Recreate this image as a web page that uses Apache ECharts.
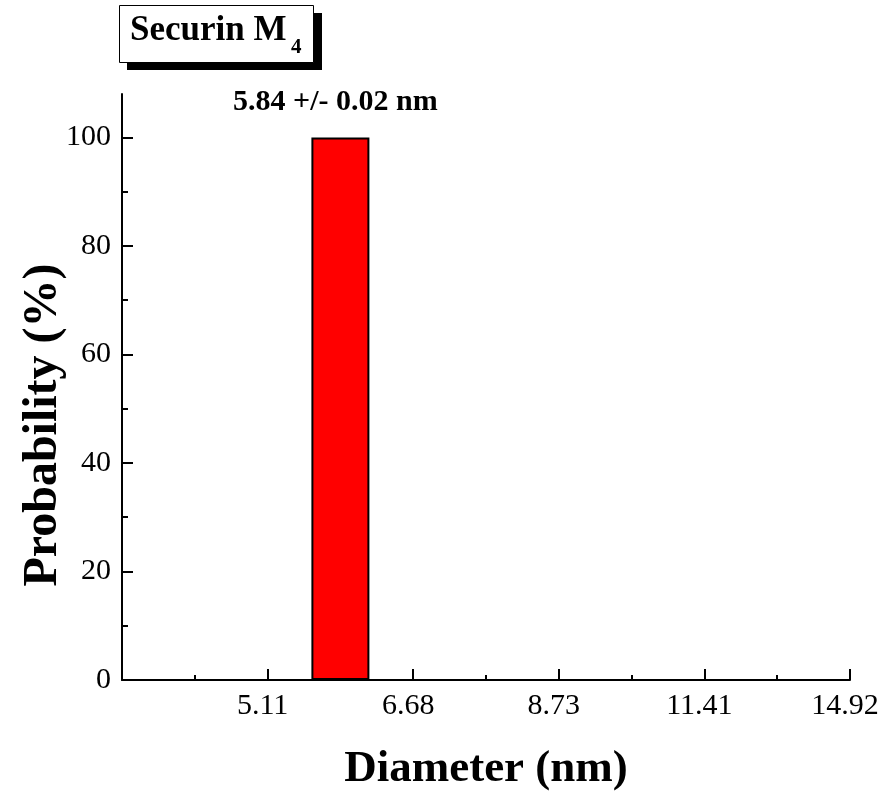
<!DOCTYPE html>
<html>
<head>
<meta charset="utf-8">
<script src="https://cdn.jsdelivr.net/npm/echarts@6/dist/echarts.min.js"></script>
<style>
  html, body { margin: 0; padding: 0; background: #fff; }
  #chart { width: 885px; height: 791px; }
</style>
</head>
<body>
<div id="chart"></div>
<script>
// Log-spaced diameter bins (nm), half-step apart
const diameters = ['3.91', '4.47', '5.11', '5.84', '6.68', '7.64', '8.73', '9.98', '11.41', '13.05', '14.92'];
// Bins that carry a tick label (major ticks)
const labeledDiameters = ['5.11', '6.68', '8.73', '11.41', '14.92'];
// Size distribution: probability (%) per diameter bin
const peakDiameter = '5.84';
const peakError = '0.02';
const probabilities = [[peakDiameter, 100]];
// Y axis ticks
const yMajorTicks = [0, 20, 40, 60, 80, 100];
const yMinorTicks = [10, 30, 50, 70, 90];

const FONT = "'Liberation Serif', 'Times New Roman', serif";
const isLabeled = (i) => labeledDiameters.indexOf(diameters[i]) >= 0;
const isMinor = (i) => i > 0 && !isLabeled(i);

const chart = echarts.init(document.getElementById('chart'), null, { renderer: 'canvas' });

const option = {
  backgroundColor: '#ffffff',
  animation: false,
  grid: { left: 122, right: 35, top: 94, bottom: 111, containLabel: false, outerBoundsMode: 'none' },
  xAxis: [
    {
      type: 'category',
      data: diameters,
      boundaryGap: false,
      axisLine: { show: true, lineStyle: { color: '#000', width: 2 } },
      axisTick: { show: true, inside: true, length: 11, lineStyle: { color: '#000', width: 2 },
        interval: (i) => isLabeled(i) },
      axisLabel: { show: true, color: '#000', fontFamily: FONT, fontSize: 30, margin: 11,
        padding: [0, 10, 0, 0],
        interval: (i) => isLabeled(i) },
      splitLine: { show: false },
      name: 'Diameter (nm)',
      nameLocation: 'middle',
      nameGap: 67,
      nameTextStyle: { color: '#000', fontFamily: FONT, fontWeight: 'bold', fontSize: 45 }
    },
    {
      type: 'category',
      data: diameters,
      boundaryGap: false,
      position: 'bottom',
      axisLine: { show: false },
      axisTick: { show: true, inside: true, length: 5, lineStyle: { color: '#000', width: 2 },
        interval: (i) => isMinor(i) },
      axisLabel: { show: false },
      splitLine: { show: false }
    }
  ],
  yAxis: [
    {
      type: 'value',
      min: 0,
      max: 108,
      position: 'left',
      axisLine: { show: true, lineStyle: { color: '#000', width: 2 } },
      axisTick: { show: true, inside: true, length: 11, lineStyle: { color: '#000', width: 2 },
        customValues: yMajorTicks },
      axisLabel: { show: true, color: '#000', fontFamily: FONT, fontSize: 30, margin: 11,
        customValues: yMajorTicks },
      splitLine: { show: false }
    },
    {
      type: 'value',
      min: 0,
      max: 108,
      position: 'left',
      offset: 0,
      axisLine: { show: false },
      axisTick: { show: true, inside: true, length: 6, lineStyle: { color: '#000', width: 2 },
        customValues: yMinorTicks },
      axisLabel: { show: false },
      splitLine: { show: false }
    }
  ],
  series: [
    {
      type: 'bar',
      xAxisIndex: 0,
      yAxisIndex: 0,
      data: probabilities,
      barWidth: 58,
      itemStyle: { color: '#ff0000', borderColor: '#000', borderWidth: 2 },
      label: {
        show: true,
        position: 'top',
        distance: 20,
        offset: [-5, 0],
        formatter: (p) => `${p.value[0]} +/- ${peakError} nm`,
        color: '#000',
        fontFamily: FONT,
        fontWeight: 'bold',
        fontSize: 30
      }
    }
  ],
  graphic: [
    // Y axis title, reading bottom to top
    { type: 'text', x: 44, y: 425, rotation: Math.PI / 2, z: 12,
      style: { text: 'Probability (%)', fontFamily: FONT, fontWeight: 'bold', fontSize: 48,
        fill: '#000', align: 'center', verticalAlign: 'middle' } },
    // Sample name box with drop shadow
    { type: 'rect', left: 127, top: 13, shape: { width: 195, height: 57 },
      style: { fill: '#000' }, z: 10 },
    { type: 'rect', left: 119, top: 5, shape: { width: 194, height: 57 },
      style: { fill: '#fff', stroke: '#000', lineWidth: 1 }, z: 11 },
    { type: 'text', x: 130, y: 31, z: 12,
      style: { text: 'Securin M', fontFamily: FONT, fontWeight: 'bold', fontSize: 35,
        fill: '#000', align: 'left', verticalAlign: 'middle' } },
    { type: 'text', x: 291, y: 48, z: 12,
      style: { text: '4', fontFamily: FONT, fontWeight: 'bold', fontSize: 21,
        fill: '#000', align: 'left', verticalAlign: 'middle' } }
  ]
};

chart.setOption(option);
</script>
</body>
</html>
